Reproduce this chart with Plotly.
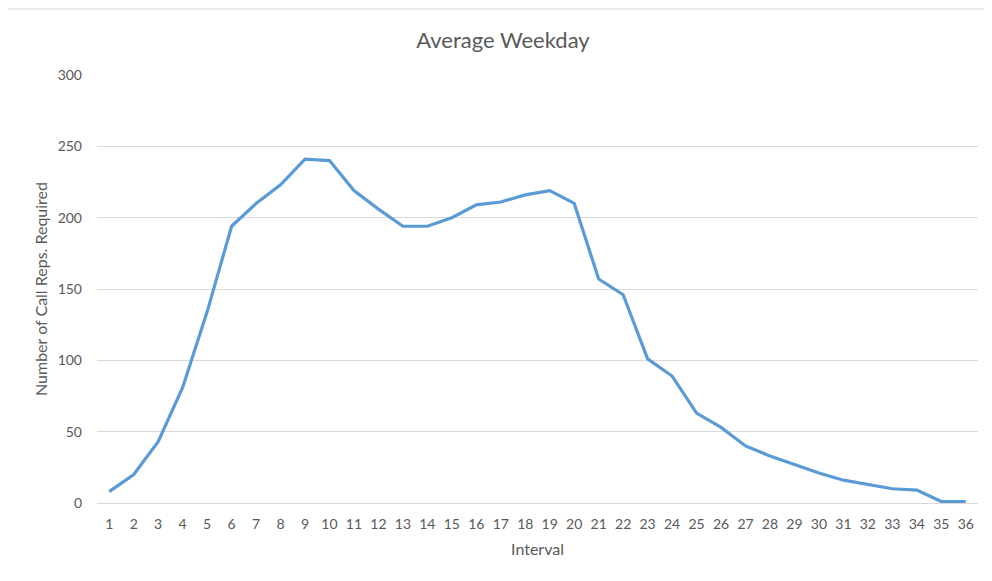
import plotly.graph_objects as go

intervals = [str(i) for i in range(1, 37)]
reps_required = [8, 20, 43, 81, 134, 194, 210, 223, 241, 240,
                 219, 206, 194, 194, 200, 209, 211, 216, 219, 210,
                 157, 146, 101, 89, 63, 53, 40, 33, 27, 21,
                 16, 13, 10, 9, 1, 1]

fig = go.Figure()

fig.add_trace(
    go.Scatter(
        x=intervals,
        y=reps_required,
        mode='lines',
        line=dict(color='#5B9BD5', width=3.2),
        showlegend=False,
    )
)

# page has an 8px body margin, so the figure is sized to fit inside it
fig.update_layout(
    title=dict(
        text='Average Weekday',
        x=495 / 976,
        xanchor='center',
        y=1 - 32 / 565,
        yanchor='middle',
        font=dict(family='Lato, Open Sans, sans-serif', size=22, color='#595959'),
    ),
    width=976,
    height=565,
    margin=dict(l=89, r=6, t=67, b=70),
    plot_bgcolor='white',
    paper_bgcolor='white',
    font=dict(family='Lato, Open Sans, sans-serif', size=14, color='#595959'),
)

fig.update_xaxes(
    title=dict(text='Interval', standoff=13, font=dict(size=16, color='#595959')),
    type='category',
    range=[-0.5, 35.5],
    showgrid=False,
    showline=True,
    linecolor='#D9D9D9',
    linewidth=1,
    ticks='',
    ticklabelstandoff=8,
    tickfont=dict(size=14, color='#595959'),
)

fig.update_yaxes(
    title=dict(text='Number of Call Reps. Required', standoff=6, font=dict(size=16, color='#595959')),
    range=[0, 300],
    dtick=50,
    showgrid=True,
    gridcolor='#D9D9D9',
    gridwidth=1,
    zeroline=False,
    showline=False,
    ticks='',
    ticklabelstandoff=14,
    tickfont=dict(size=14, color='#595959'),
)

# thin border line at the top of the chart
fig.add_shape(
    type='line',
    xref='paper', yref='paper',
    x0=-89 / 881, x1=1 + 6 / 881,
    y0=1 + 66 / 428, y1=1 + 66 / 428,
    line=dict(color='#D9D9D9', width=1),
)

fig.write_html("out.html")
